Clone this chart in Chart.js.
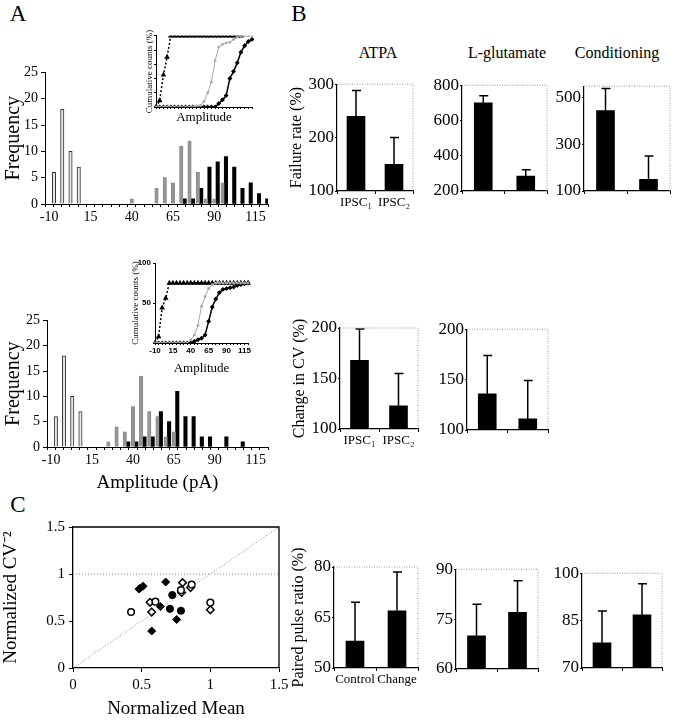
<!DOCTYPE html>
<html>
<head>
<meta charset="utf-8">
<script src="https://cdn.jsdelivr.net/npm/chart.js@4.4.1/dist/chart.umd.min.js"></script>
<style>
  body { margin: 0; background: #fff; width: 674px; height: 720px; position: relative; overflow: hidden;
         font-family: "Liberation Serif", "Times New Roman", serif; }
  canvas { position: absolute; }
  .t { position: absolute; line-height: 1; white-space: nowrap; text-align: center; }
</style>
</head>
<body>
<div class="t" style="left:6px;top:2px;width:24px;font-size:23px">A</div>
<div class="t" style="left:287px;top:2px;width:24px;font-size:23px">B</div>
<div class="t" style="left:6px;top:493px;width:24px;font-size:23px">C</div>
<div class="t" style="left:318px;top:45px;width:120px;font-size:16px">ATPA</div>
<div class="t" style="left:447px;top:45px;width:120px;font-size:16px">L-glutamate</div>
<div class="t" style="left:557px;top:45px;width:120px;font-size:16px">Conditioning</div>

<canvas id="histTop"></canvas>
<canvas id="histBot"></canvas>
<canvas id="insetTop"></canvas>
<canvas id="insetBot"></canvas>
<canvas id="failAtpa"></canvas>
<canvas id="failGlu"></canvas>
<canvas id="failCond"></canvas>
<canvas id="cvAtpa"></canvas>
<canvas id="cvGlu"></canvas>
<canvas id="pprAtpa"></canvas>
<canvas id="pprGlu"></canvas>
<canvas id="pprCond"></canvas>
<canvas id="scatterC"></canvas>

<script>
// amplitude bins (pA), one category per 5 pA
const binLabels = ['-10', '-5', '0', '5', '10', '15', '20', '25', '30', '35', '40', '45', '50', '55',
                   '60', '65', '70', '75', '80', '85', '90', '95', '100', '105', '110', '115', '120'];

// A, upper histogram (counts)
const failTop  = [null, 6, 18, 10, 7, null, null, null, null, null, null, null, null, null,
                  null, null, null, null, null, null, null, null, null, null, null, null, null];
const greyTop  = [null, null, null, null, null, null, null, null, null, null, 1, null, null, 3,
                  5, 4, 11, 12, 6, 1, 1, 4, null, null, null, null, null];
const blackTop = [null, null, null, null, null, null, null, null, null, null, null, null, null, null,
                  null, null, 1, 1, 3, 7, 8, 9, 7, 3, 4, 2, 1];

// A, lower histogram (counts)
const failBot  = [null, 6, 18, 10, 7, null, null, null, null, null, null, null, null, null,
                  null, null, null, null, null, null, null, null, null, null, null, null, null];
const greyBot  = [null, null, null, null, null, null, null, 1, 4, 3, 8, 14, 7, 6,
                  2, 3, null, null, null, null, null, null, null, null, null, null, null];
const blackBot = [null, null, null, null, null, null, null, null, null, 1, 1, 2, 2, 7,
                  5, 11, 6, 6, 2, 2, null, 2, null, 1, null, null, null];

// A, insets: cumulative counts (%)
const failCumTop  = [0, 9, 45, 70, 100, 100, 100, 100, 100, 100, 100, 100, 100, 100,
                     100, 100, 100, 100, 100, 100, 100, 100, 100, 100, null, null, null];
const greyCumTop  = [0, 0, 0, 0, 0, 0, 0, 0, 0, 0, 0, 1, 2, 8,
                     20, 35, 65, 84, 88, 90, 91, 95, 98, 100, 100, 100, 100];
const blackCumTop = [0, 0, 0, 0, 0, 0, 0, 0, 0, 0, 0, 0, 0, 0,
                     0, 0, 0, 5, 10, 16, 40, 50, 62, 77, 86, 92, 95];
const failCumBot  = [0, 8, 44, 56, 75, 75, 75, 75, 75, 75, 75, 75, 75, 75,
                     75, 75, 75, 75, 75, 75, 75, 75, 75, 75, 75, 75, 75];
const greyCumBot  = [0, 0, 0, 0, 0, 0, 0, 0, 0, 0, 4, 10, 22, 46,
                     58, 68, 73, 75, 75, 75, 75, 75, 75, 75, 75, 75, 75];
const blackCumBot = [0, 0, 0, 0, 0, 0, 0, 0, 0, 0, 0, 2, 4, 6,
                     10, 27, 45, 55, 63, 67, 68, 69, 70, 72, 73, 74, 75];

// B: bar means and top of error bars
const ipscLabels = ['IPSC\u2081', 'IPSC\u2082'];
const pprLabels = ['Control', 'Change'];
const failAtpa = [240, 150], failAtpaErr = [288, 200];
const failGlu = [700, 285], failGluErr = [740, 320];
const failCond = [445, 150], failCondErr = [540, 250];
const cvAtpa = [168, 123], cvAtpaErr = [199, 155];
const cvGlu = [136, 111], cvGluErr = [174, 149];
const pprAtpa = [58, 67], pprAtpaErr = [69.5, 78.5];
const pprGlu = [70, 77], pprGluErr = [79.5, 86.5];
const pprCond = [78, 86.8], pprCondErr = [88, 96.7];

// B: y tick values
const failAtpaTicks = [100, 200, 300];
const failGluTicks = [200, 400, 600, 800];
const failCondTicks = [100, 300, 500];
const cvTicks = [100, 150, 200];
const pprAtpaTicks = [50, 65, 80];
const pprGluTicks = [60, 75, 90];
const pprCondTicks = [70, 85, 100];

// C: normalized mean vs normalized CV^-2
const fdMean = [0.48, 0.49, 0.51, 0.675, 0.636, 0.755, 0.573];
const fdCV   = [0.84, 0.85, 0.87, 0.915, 0.654, 0.515, 0.393];
const fcMean = [0.723, 0.706, 0.786];
const fcCV   = [0.776, 0.63, 0.609];
const ocMean = [0.423, 0.6, 0.786, 0.864, 1.0];
const ocCV   = [0.595, 0.706, 0.828, 0.887, 0.696];
const odMean = [0.561, 0.573, 0.798, 0.791, 0.856, 1.0];
const odCV   = [0.699, 0.595, 0.908, 0.804, 0.856, 0.619];
const unityX = [0, 1.5], unityY = [0, 1.5];
const refX = [0, 1.5], refY = [1, 1];
const scatterTicks = [0, 0.5, 1, 1.5];

const SERIF = '"Liberation Serif", "Times New Roman", serif';
const SANS = '"Liberation Sans", Arial, sans-serif';
Chart.defaults.font.family = SERIF;
Chart.defaults.color = '#000';
Chart.defaults.animation = false;
Chart.defaults.responsive = false;
Chart.defaults.plugins.legend.display = false;
Chart.defaults.plugins.tooltip.enabled = false;

// canvas placed so that the plot area lands on box
function place(id, box, pad) {
  const cv = document.getElementById(id);
  cv.width = Math.round(box.r - box.l + pad.yW + pad.right);
  cv.height = Math.round(box.b - box.t + pad.top + pad.xH);
  cv.style.left = (box.l - pad.yW) + 'px';
  cv.style.top = (box.t - pad.top) + 'px';
  return cv;
}
const fixW = w => s => { s.width = w; };
const fixH = h => s => { s.height = h; };
const toPts = (xs, ys) => xs.map((x, i) => ({ x: x, y: ys[i] }));

// top + right edge of the plot box
const frame = {
  id: 'frame',
  afterDraw(chart, args, opts) {
    const { ctx, chartArea: a } = chart;
    ctx.save();
    ctx.strokeStyle = opts.color;
    ctx.lineWidth = opts.width;
    ctx.setLineDash(opts.dash);
    ctx.beginPath();
    ctx.moveTo(a.left, a.top);
    ctx.lineTo(a.right, a.top);
    ctx.lineTo(a.right, a.bottom);
    ctx.stroke();
    ctx.restore();
  }
};

// one-sided error bars, tops taken from dataset.errTop
const errorBars = {
  id: 'errorBars',
  afterDatasetsDraw(chart) {
    const { ctx } = chart;
    const y = chart.scales.y;
    chart.data.datasets.forEach((ds, di) => {
      if (!ds.errTop) return;
      chart.getDatasetMeta(di).data.forEach((bar, i) => {
        const yt = y.getPixelForValue(ds.errTop[i]);
        ctx.save();
        ctx.strokeStyle = '#000';
        ctx.lineWidth = 1.5;
        ctx.beginPath();
        ctx.moveTo(bar.x, bar.y);
        ctx.lineTo(bar.x, yt);
        ctx.moveTo(bar.x - 4, yt);
        ctx.lineTo(bar.x + 5, yt);
        ctx.stroke();
        ctx.restore();
      });
    });
  }
};

function histogram(id, box, pad, fail, grey, black, xTitle) {
  const cv = place(id, box, pad);
  return new Chart(cv, {
    type: 'bar',
    data: {
      labels: binLabels,
      datasets: [
        { data: fail, backgroundColor: '#e6e6e6', borderColor: '#333', borderWidth: 1 },
        { data: grey, backgroundColor: '#959595', borderColor: '#7a7a7a', borderWidth: 0.5 },
        { data: black, backgroundColor: '#000', borderWidth: 0 }
      ]
    },
    options: {
      layout: { padding: { top: pad.top, right: pad.right, left: 0, bottom: 0 } },
      datasets: { bar: { barThickness: 3.4 } },
      scales: {
        x: {
          afterFit: fixH(pad.xH),
          grid: { drawOnChartArea: false, tickLength: 3, color: '#000' },
          border: { color: '#000' },
          ticks: { autoSkip: false, maxRotation: 0, padding: 2, font: { family: SERIF, size: 14 },
                   callback: (v, i) => (i % 5 === 0 ? binLabels[i] : '') },
          title: { display: !!xTitle, text: xTitle, font: { family: SERIF, size: 19 }, padding: 0 }
        },
        y: {
          min: 0, max: 25,
          afterFit: fixW(pad.yW),
          grid: { drawOnChartArea: false, tickLength: 4, color: '#000' },
          border: { color: '#000' },
          ticks: { stepSize: 5, padding: 3, font: { family: SERIF, size: 14 } },
          title: { display: true, text: 'Frequency', font: { family: SERIF, size: 20 },
                   padding: { top: 2, bottom: 0 } }
        }
      }
    }
  });
}

function inset(id, box, pad, fail, grey, black, opt) {
  const cv = place(id, box, pad);
  return new Chart(cv, {
    type: 'line',
    data: {
      labels: binLabels,
      datasets: [
        { data: grey, borderColor: '#aaa', borderWidth: 1, pointRadius: 1.2, pointStyle: 'rect',
          pointBackgroundColor: '#aaa', pointBorderColor: '#aaa' },
        { data: black, borderColor: '#000', borderWidth: 1.5, pointRadius: 1.4, pointStyle: 'rectRot',
          pointBackgroundColor: '#000', pointBorderColor: '#000' },
        { data: fail, borderColor: '#000', borderWidth: 1.5, borderDash: [2, 2], pointRadius: 1.8,
          pointStyle: 'triangle', pointBackgroundColor: '#000', pointBorderColor: '#000' }
      ]
    },
    options: {
      layout: { padding: { top: pad.top, right: pad.right, left: 0, bottom: 0 } },
      scales: {
        x: {
          offset: false,
          afterFit: fixH(pad.xH),
          grid: { drawOnChartArea: false, tickLength: 2, color: '#000' },
          border: { color: '#000' },
          ticks: { autoSkip: false, maxRotation: 0, padding: 1,
                   font: { family: SANS, size: 8, weight: 'bold' },
                   callback: (v, i) => (opt.xLabels && i % 5 === 0 ? binLabels[i] : '') },
          title: { display: true, text: 'Amplitude', font: { family: SERIF, size: 13 }, padding: 0 }
        },
        y: {
          min: 0, max: 100,
          afterFit: fixW(pad.yW),
          grid: { drawOnChartArea: false, tickLength: 2, color: '#000' },
          border: { color: '#000' },
          ticks: { stepSize: opt.yStep, padding: 2,
                   font: { family: SANS, size: 8, weight: 'bold' },
                   callback: v => (opt.yLabels && v > 0 ? String(v) : '') },
          title: { display: true, text: 'Cumulative counts (%)', font: { family: SERIF, size: 9 }, padding: 0 }
        }
      }
    }
  });
}

function barPanel(id, box, yW, labels, vals, errTop, ticks, max, yTitle, showX, topPad) {
  const pad = { yW: yW, xH: 22, top: topPad || 10, right: 4 };
  const cv = place(id, box, pad);
  return new Chart(cv, {
    type: 'bar',
    data: {
      labels: labels,
      datasets: [{ data: vals, errTop: errTop, backgroundColor: '#000', barThickness: 18 }]
    },
    options: {
      layout: { padding: { top: pad.top, right: pad.right, left: 0, bottom: 0 } },
      plugins: { frame: { color: '#999', width: 1, dash: [1, 1.5] } },
      scales: {
        x: {
          afterFit: fixH(pad.xH),
          grid: { drawOnChartArea: false, tickLength: 3, color: '#000' },
          border: { color: '#000', width: 1.2 },
          ticks: { display: showX, autoSkip: false, maxRotation: 0, minRotation: 0, padding: 1,
                   font: { family: SERIF, size: 13 } }
        },
        y: {
          min: ticks[0], max: max,
          afterFit: fixW(pad.yW),
          afterBuildTicks: s => { s.ticks = ticks.map(v => ({ value: v })); },
          grid: { drawOnChartArea: false, tickLength: 2, color: '#000' },
          border: { color: '#000', width: 1.2 },
          ticks: { padding: 1, font: { family: SERIF, size: 17 } },
          title: { display: !!yTitle, text: yTitle, font: { family: SERIF, size: 16 }, padding: 0 }
        }
      }
    },
    plugins: [frame, errorBars]
  });
}

// ---- A ----
histogram('histTop', { l: 45, t: 71, r: 268, b: 204 }, { yW: 45, xH: 24, top: 10, right: 6 },
          failTop, greyTop, blackTop, '');
histogram('histBot', { l: 47, t: 319, r: 268, b: 447 }, { yW: 47, xH: 47, top: 10, right: 6 },
          failBot, greyBot, blackBot, 'Amplitude (pA)');
inset('insetTop', { l: 156, t: 35, r: 252, b: 107 }, { yW: 12, xH: 18, top: 6, right: 6 },
      failCumTop, greyCumTop, blackCumTop, { xLabels: false, yLabels: false, yStep: 20 });
inset('insetBot', { l: 155, t: 263, r: 248, b: 343 }, { yW: 25, xH: 33, top: 8, right: 8 },
      failCumBot, greyCumBot, blackCumBot, { xLabels: true, yLabels: true, yStep: 50 });

// ---- B ----
barPanel('failAtpa', { l: 337, t: 83, r: 413, b: 191 }, 50, ipscLabels, failAtpa, failAtpaErr,
         failAtpaTicks, 300, 'Failure rate (%)', true);
barPanel('failGlu', { l: 462, t: 84, r: 547, b: 191 }, 32, ipscLabels, failGlu, failGluErr,
         failGluTicks, 800, '', false);
barPanel('failCond', { l: 584, t: 85, r: 670, b: 191 }, 32, ipscLabels, failCond, failCondErr,
         failCondTicks, 550, '', false);
barPanel('cvAtpa', { l: 340, t: 328, r: 418, b: 429 }, 50, ipscLabels, cvAtpa, cvAtpaErr,
         cvTicks, 200, 'Change in CV (%)', true, 20);
barPanel('cvGlu', { l: 467, t: 328, r: 548, b: 430 }, 32, ipscLabels, cvGlu, cvGluErr,
         cvTicks, 200, '', false);
barPanel('pprAtpa', { l: 334, t: 567, r: 418, b: 668 }, 45, pprLabels, pprAtpa, pprAtpaErr,
         pprAtpaTicks, 80, 'Paired pulse ratio (%)', true, 30);
barPanel('pprGlu', { l: 456, t: 568, r: 538, b: 669 }, 30, pprLabels, pprGlu, pprGluErr,
         pprGluTicks, 90, '', false);
barPanel('pprCond', { l: 582, t: 572, r: 662, b: 668 }, 32, pprLabels, pprCond, pprCondErr,
         pprCondTicks, 100, '', false);

// ---- C ----
(function () {
  const pad = { yW: 73, xH: 52, top: 10, right: 14 };
  const cv = place('scatterC', { l: 73, t: 524, r: 279, b: 668 }, pad);
  const refStyle = { type: 'line', borderColor: '#888', borderWidth: 1, borderDash: [1, 2],
                     pointRadius: 0, showLine: true, fill: false };
  const axis = title => ({
    type: 'linear', min: 0, max: 1.5,
    afterBuildTicks: s => { s.ticks = scatterTicks.map(v => ({ value: v })); },
    grid: { drawOnChartArea: false, tickLength: 4, color: '#000' },
    border: { color: '#000', width: 1.3 },
    ticks: { padding: 4, font: { family: SERIF, size: 15 }, callback: v => String(v) },
    title: { display: true, text: title, font: { family: SERIF, size: 19 }, padding: 0 }
  });
  const x = axis('Normalized Mean');
  x.afterFit = fixH(pad.xH);
  const y = axis('Normalized CV\u207B\u00B2');
  y.afterFit = fixW(pad.yW);
  new Chart(cv, {
    type: 'scatter',
    data: {
      datasets: [
        Object.assign({ data: toPts(unityX, unityY) }, refStyle),
        Object.assign({ data: toPts(refX, refY) }, refStyle),
        { data: toPts(fdMean, fdCV), pointStyle: 'rectRot', pointRadius: 4,
          backgroundColor: '#000', borderColor: '#000' },
        { data: toPts(fcMean, fcCV), pointStyle: 'circle', pointRadius: 3.6,
          backgroundColor: '#000', borderColor: '#000' },
        { data: toPts(ocMean, ocCV), pointStyle: 'circle', pointRadius: 3.3,
          backgroundColor: '#fff', borderColor: '#000', borderWidth: 1.5 },
        { data: toPts(odMean, odCV), pointStyle: 'rectRot', pointRadius: 3.8,
          backgroundColor: '#fff', borderColor: '#000', borderWidth: 1.5 }
      ]
    },
    options: {
      layout: { padding: { top: pad.top, right: pad.right, left: 0, bottom: 0 } },
      plugins: { frame: { color: '#000', width: 1.3, dash: [] } },
      scales: { x: x, y: y }
    },
    plugins: [frame]
  });
})();
</script>
</body>
</html>
